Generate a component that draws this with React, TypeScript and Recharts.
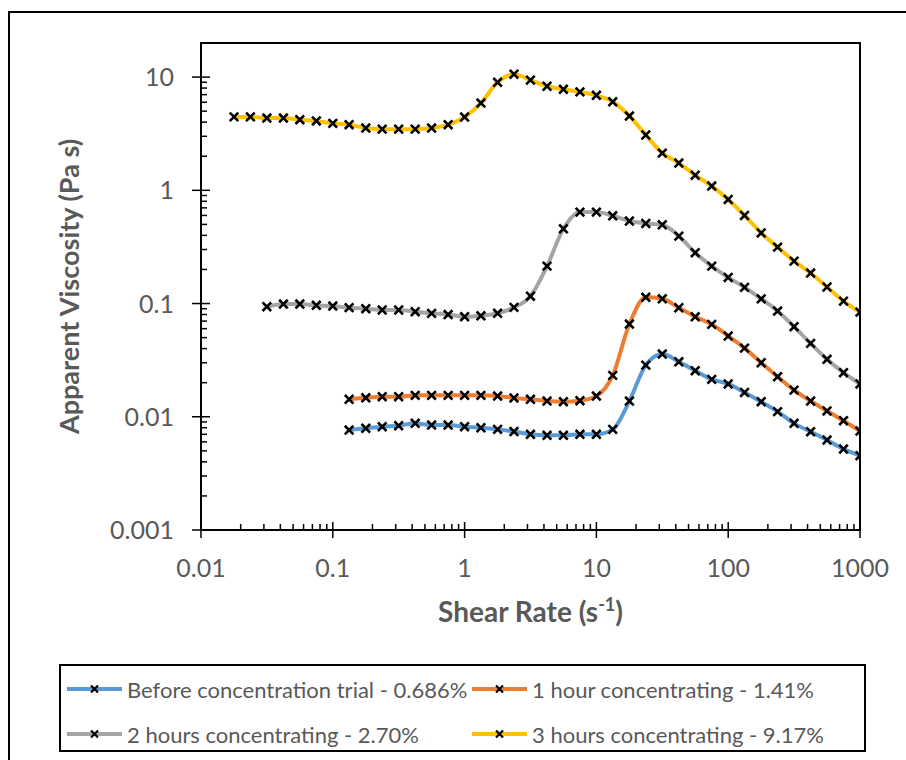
import React from 'react';
import { LineChart, Line, XAxis, YAxis, ReferenceArea, Label } from 'recharts';

// Shear rates (1/s)
const shearYellow = [0.0178, 0.0237, 0.0316, 0.0422, 0.0562, 0.075, 0.1, 0.133, 0.178, 0.237, 0.316, 0.422, 0.562, 0.75, 1, 1.33, 1.78, 2.37, 3.16, 4.22, 5.62, 7.5, 10, 13.3, 17.8, 23.7, 31.6, 42.2, 56.2, 75, 100, 133, 178, 237, 316, 422, 562, 750, 1000];
const shearGray = [0.0316, 0.0422, 0.0562, 0.075, 0.1, 0.133, 0.178, 0.237, 0.316, 0.422, 0.562, 0.75, 1, 1.33, 1.78, 2.37, 3.16, 4.22, 5.62, 7.5, 10, 13.3, 17.8, 23.7, 31.6, 42.2, 56.2, 75, 100, 133, 178, 237, 316, 422, 562, 750, 1000];
const shearLow = [0.133, 0.178, 0.237, 0.316, 0.422, 0.562, 0.75, 1, 1.33, 1.78, 2.37, 3.16, 4.22, 5.62, 7.5, 10, 13.3, 17.8, 23.7, 31.6, 42.2, 56.2, 75, 100, 133, 178, 237, 316, 422, 562, 750, 1000];

// Apparent viscosity (Pa s)
const viscYellow = [4.45, 4.45, 4.35, 4.35, 4.2, 4.1, 3.9, 3.8, 3.55, 3.47, 3.47, 3.47, 3.55, 3.8, 4.44, 5.9, 9.0, 10.6, 9.4, 8.3, 7.8, 7.4, 6.9, 6.05, 4.53, 3.08, 2.13, 1.74, 1.36, 1.09, 0.83, 0.6, 0.42, 0.315, 0.237, 0.186, 0.14, 0.105, 0.084];
const viscGray = [0.0937, 0.099, 0.099, 0.0965, 0.095, 0.092, 0.09, 0.0877, 0.0877, 0.0847, 0.0819, 0.08, 0.0765, 0.078, 0.082, 0.0925, 0.116, 0.214, 0.457, 0.642, 0.642, 0.596, 0.535, 0.51, 0.496, 0.394, 0.281, 0.214, 0.17, 0.139, 0.11, 0.0859, 0.0624, 0.0445, 0.0322, 0.0245, 0.0195];
const viscOrange = [0.01426, 0.01472, 0.01503, 0.01503, 0.01546, 0.01546, 0.01546, 0.01546, 0.01546, 0.01524, 0.01465, 0.01426, 0.01377, 0.01358, 0.01386, 0.01524, 0.0232, 0.0659, 0.1135, 0.1102, 0.0918, 0.0764, 0.0655, 0.0516, 0.0404, 0.03, 0.0226, 0.0172, 0.01377, 0.01125, 0.00923, 0.00748];
const viscBlue = [0.00764, 0.00791, 0.00817, 0.00834, 0.00875, 0.00845, 0.00845, 0.00817, 0.008, 0.00774, 0.00741, 0.007, 0.00686, 0.00686, 0.007, 0.007, 0.00774, 0.01377, 0.0286, 0.0358, 0.0306, 0.0255, 0.0214, 0.0195, 0.0164, 0.01358, 0.0111, 0.00875, 0.00738, 0.00623, 0.00519, 0.00453];

const seriesNames = [
  'Before concentration trial - 0.686%',
  '1 hour concentrating - 1.41%',
  '2 hours concentrating - 2.70%',
  '3 hours concentrating - 9.17%',
];
const seriesColors = ['#5B9BD5', '#ED7D31', '#A5A5A5', '#FFC000'];

const xMajorTicks = [0.01, 0.1, 1, 10, 100, 1000];
const xTickLabels = ['0.01', '0.1', '1', '10', '100', '1000'];
const yMajorTicks = [0.001, 0.01, 0.1, 1, 10];
const yTickLabels = ['0.001', '0.01', '0.1', '1', '10'];
const minorSteps = [2, 3, 4, 5, 6, 7, 8, 9];

const withMinors = (majors: number[]) => {
  const out: number[] = [];
  majors.forEach((m, i) => {
    out.push(m);
    if (i < majors.length - 1) minorSteps.forEach((s) => out.push(+(m * s).toPrecision(6)));
  });
  return out;
};
const xTicks = withMinors(xMajorTicks);
const yTicks = withMinors(yMajorTicks);

const toData = (xs: number[], ys: number[]) => xs.map((x, i) => ({ x, y: ys[i] }));
const seriesData = [
  toData(shearLow, viscBlue),
  toData(shearLow, viscOrange),
  toData(shearGray, viscGray),
  toData(shearYellow, viscYellow),
];

const FONT = 'Lato, "Open Sans", sans-serif';
const TEXT = '#595959';

const XTick = (props: any) => {
  const { x, y, payload } = props;
  const idx = xMajorTicks.indexOf(payload.value);
  const major = idx >= 0;
  return (
    <g>
      <line x1={x} x2={x} y1={major ? y - 8 : y - 6} y2={major ? y + 8 : y} stroke="#000" strokeWidth={1.5} />
      {major && (
        <text x={x} y={y + 47} textAnchor="middle" fill={TEXT} fontSize={25} fontFamily={FONT}>
          {xTickLabels[idx]}
        </text>
      )}
    </g>
  );
};

const YTick = (props: any) => {
  const { x, y, payload } = props;
  const idx = yMajorTicks.indexOf(payload.value);
  const major = idx >= 0;
  return (
    <g>
      <line x1={major ? x - 9 : x} x2={major ? x + 9 : x + 6} y1={y} y2={y} stroke="#000" strokeWidth={1.5} />
      {major && (
        <text x={x - 27} y={y + 9} textAnchor="end" fill={TEXT} fontSize={25} fontFamily={FONT}>
          {yTickLabels[idx]}
        </text>
      )}
    </g>
  );
};

const XMark = (props: any) => {
  const { cx, cy, index } = props;
  if (cx == null || cy == null) return <g key={`n${index}`} />;
  const r = 4.3;
  return (
    <path
      key={`m${index}-${cx}`}
      d={`M${cx - r},${cy - r}L${cx + r},${cy + r}M${cx - r},${cy + r}L${cx + r},${cy - r}`}
      stroke="#000"
      strokeWidth={2.6}
      fill="none"
    />
  );
};

const XTitle = (props: any) => {
  const vb = props.viewBox || { x: 201, y: 530, width: 659 };
  const cx = vb.x + vb.width / 2;
  return (
    <text x={cx} y={vb.y + 92} textAnchor="middle" fill={TEXT} fontSize={28} fontWeight="bold" fontFamily={FONT}>
      <tspan>Shear Rate (s</tspan>
      <tspan dy={-11} fontSize={18}>-1</tspan>
      <tspan dy={11}>)</tspan>
    </text>
  );
};

const YTitle = (props: any) => {
  const vb = props.viewBox || { x: 0, y: 43, width: 201, height: 487 };
  const cy = vb.y + vb.height / 2;
  const cx = 68;
  return (
    <text
      x={cx}
      y={cy}
      transform={`rotate(-90 ${cx} ${cy})`}
      textAnchor="middle"
      dominantBaseline="central"
      fill={TEXT}
      fontSize={27}
      fontWeight="bold"
      fontFamily={FONT}
    >
      Apparent Viscosity (Pa s)
    </text>
  );
};

const LegendItem = ({ color, name, left, top }: any) => (
  <div style={{ position: 'absolute', left, top, height: 26, display: 'flex', alignItems: 'center', whiteSpace: 'nowrap' }}>
    <svg width={55} height={12} style={{ marginRight: 5 }}>
      <line x1={0} x2={55} y1={6} y2={6} stroke={color} strokeWidth={4} />
      <path d="M24,2.5L31,9.5M24,9.5L31,2.5" stroke="#000" strokeWidth={2.2} />
    </svg>
    <span>{name}</span>
  </div>
);

export default function App() {
  const legendPos = [
    { left: 6, top: 10 },
    { left: 411, top: 10 },
    { left: 6, top: 55 },
    { left: 411, top: 55 },
  ];
  return (
    <div style={{ position: 'absolute', left: 0, top: 0, width: 906, height: 760, overflow: 'hidden', background: '#fff' }}>
      <div style={{ position: 'absolute', left: 8, top: 11, width: 1000, height: 1000, border: '2px solid #000' }} />
      <div style={{ position: 'absolute', left: 0, top: 0 }}>
        <LineChart width={906} height={760} margin={{ top: 43, right: 46, left: 0, bottom: 130 }}>
          <XAxis
            dataKey="x"
            type="number"
            scale="log"
            domain={[0.01, 1000]}
            allowDataOverflow
            ticks={xTicks}
            interval={0}
            tick={<XTick />}
            tickLine={false}
            tickSize={0}
            tickMargin={0}
            axisLine={{ stroke: '#000', strokeWidth: 2 }}
            height={100}
          >
            <Label content={<XTitle />} />
          </XAxis>
          <YAxis
            dataKey="y"
            type="number"
            scale="log"
            domain={[0.001, 20]}
            allowDataOverflow
            ticks={yTicks}
            interval={0}
            tick={<YTick />}
            tickLine={false}
            tickSize={0}
            tickMargin={0}
            axisLine={{ stroke: '#000', strokeWidth: 2 }}
            width={201}
          >
            <Label content={<YTitle />} />
          </YAxis>
          <ReferenceArea x1={0.01} x2={1000} y1={0.001} y2={20} fill="none" stroke="#000" strokeWidth={2} ifOverflow="visible" />
          {seriesData.map((d, i) => (
            <Line
              key={seriesNames[i]}
              data={d}
              dataKey="y"
              name={seriesNames[i]}
              type="monotone"
              stroke={seriesColors[i]}
              strokeWidth={4}
              dot={XMark}
              activeDot={false}
              isAnimationActive={false}
            />
          ))}
        </LineChart>
      </div>
      <div
        style={{
          position: 'absolute',
          left: 59,
          top: 664,
          width: 807,
          height: 88,
          border: '2px solid #000',
          boxSizing: 'border-box',
          fontFamily: FONT,
          fontSize: 22,
          color: TEXT,
          background: '#fff',
        }}
      >
        {seriesNames.map((n, i) => (
          <LegendItem key={n} name={n} color={seriesColors[i]} left={legendPos[i].left} top={legendPos[i].top} />
        ))}
      </div>
    </div>
  );
}
